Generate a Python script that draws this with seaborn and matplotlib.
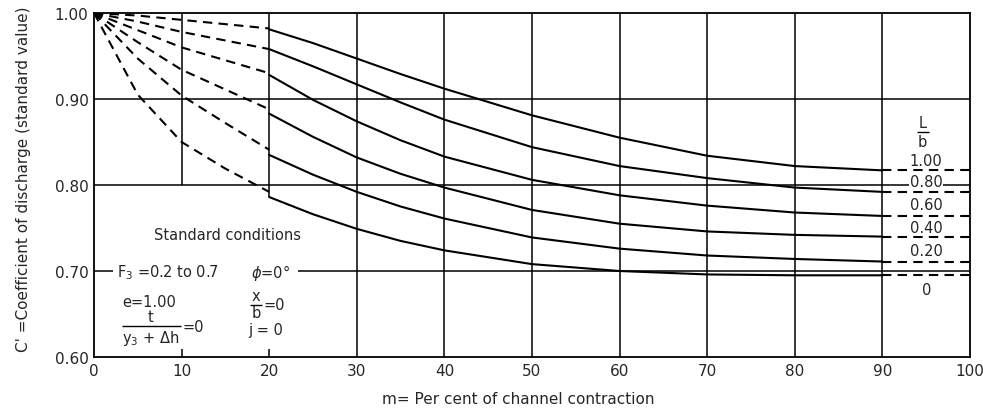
import matplotlib
matplotlib.use("Agg")
import matplotlib.pyplot as plt
import seaborn as sns
import pandas as pd

# ---------------- data ----------------
ratio_labels = ["1.00", "0.80", "0.60", "0.40", "0.20", "0"]

# dashed lead-in portion (m = 0 .. 20)
m_start = [0, 5, 10, 15, 20]
start_100 = [1.000, 0.997, 0.992, 0.987, 0.982]
start_080 = [1.000, 0.990, 0.978, 0.968, 0.958]
start_060 = [1.000, 0.980, 0.960, 0.945, 0.930]
start_040 = [1.000, 0.966, 0.934, 0.911, 0.888]
start_020 = [1.000, 0.947, 0.904, 0.872, 0.841]
start_000 = [1.000, 0.905, 0.850, 0.819, 0.792]

# solid portion (m = 20 .. 90)
m_solid = [20, 25, 30, 35, 40, 50, 60, 70, 80, 90]
solid_100 = [0.981, 0.965, 0.947, 0.929, 0.912, 0.881, 0.855, 0.834, 0.822, 0.817]
solid_080 = [0.958, 0.938, 0.917, 0.896, 0.876, 0.844, 0.822, 0.808, 0.797, 0.792]
solid_060 = [0.928, 0.899, 0.874, 0.852, 0.833, 0.806, 0.788, 0.776, 0.768, 0.764]
solid_040 = [0.883, 0.856, 0.832, 0.813, 0.797, 0.771, 0.755, 0.746, 0.742, 0.740]
solid_020 = [0.835, 0.812, 0.792, 0.775, 0.761, 0.739, 0.726, 0.718, 0.714, 0.711]
solid_000 = [0.786, 0.766, 0.749, 0.735, 0.724, 0.708, 0.700, 0.696, 0.695, 0.695]

# dashed tail portion (m = 90 .. 100)
m_end = [90, 100]
end_level = [0.817, 0.792, 0.764, 0.740, 0.711, 0.695]

x_ticks = [0, 10, 20, 30, 40, 50, 60, 70, 80, 90, 100]
y_ticks = [0.60, 0.70, 0.80, 0.90, 1.00]
y_ticklabels = ["0.60", "0.70", "0.80", "0.90", "1.00"]

# ---------------- build tables ----------------
starts = [start_100, start_080, start_060, start_040, start_020, start_000]
solids = [solid_100, solid_080, solid_060, solid_040, solid_020, solid_000]

rows = []
for lab, st, so, en in zip(ratio_labels, starts, solids, end_level):
    for m, c in zip(m_start, st):
        rows.append(dict(ratio=lab, part="start", m=m, c=c))
    for m, c in zip(m_solid, so):
        rows.append(dict(ratio=lab, part="solid", m=m, c=c))
    for m in m_end:
        rows.append(dict(ratio=lab, part="end", m=m, c=en))
df = pd.DataFrame(rows)

# ---------------- figure ----------------
sns.set_style("white")
plt.rcParams["font.family"] = ["DejaVu Sans"]
plt.rcParams["mathtext.fontset"] = "dejavusans"

fig = plt.figure(figsize=(9.83, 4.10), dpi=100)
ax = fig.add_axes([0.0956, 0.1268, 0.8912, 0.8391])
ax.set_xlim(0, 100)
ax.set_ylim(0.60, 1.00)

grid_kw = dict(color="black", lw=1.1, zorder=1)
# vertical grid
for xv in [30, 40, 50, 60, 70, 80, 90]:
    ax.vlines(xv, 0.60, 1.00, **grid_kw)
ax.vlines(10, 0.80, 1.00, **grid_kw)
ax.vlines(20, solid_000[0], 1.00, **grid_kw)
ax.vlines([10, 20], 0.60, 0.609, **grid_kw)
# horizontal grid
ax.hlines(0.90, 0, 100, **grid_kw)
ax.hlines(0.80, 0, 100, **grid_kw)
ax.hlines(0.70, 23.3, 100, **grid_kw)
ax.hlines(0.70, 0, 2.2, **grid_kw)

dash_pat = (0, (4.5, 3))
for lab in ratio_labels:
    sub = df[df["ratio"] == lab]
    for part in ["start", "solid", "end"]:
        seg = sub[sub["part"] == part]
        sns.lineplot(data=seg, x="m", y="c", ax=ax, color="black", lw=1.5,
                     estimator=None, sort=False, legend=False, zorder=3,
                     linestyle="-" if part == "solid" else dash_pat)

for s in ax.spines.values():
    s.set_visible(True)
    s.set_color("black")
    s.set_linewidth(1.3)

ax.set_xticks(x_ticks)
ax.set_xticklabels([str(v) for v in x_ticks], fontsize=11)
ax.set_yticks(y_ticks)
ax.set_yticklabels(y_ticklabels, fontsize=11)
ax.tick_params(length=0, pad=4)

ax.set_xlabel("m= Per cent of channel contraction", fontsize=11)
ax.xaxis.set_label_coords((518 - 94) / 876, -0.10)
ax.set_ylabel("C' =Coefficient of discharge (standard value)", fontsize=11)
ax.yaxis.set_label_coords(-0.072, 0.52)

# right-hand labels
lab_y = [0.828, 0.804, 0.777, 0.751, 0.724, 0.679]
for lab, yv in zip(ratio_labels, lab_y):
    ax.text(95.0, yv, lab, ha="center", va="center", fontsize=10.5, zorder=4,
            bbox=dict(boxstyle="square,pad=0.05", fc="white", ec="none"))
ax.text(94.6, 0.873, "L", ha="center", va="center", fontsize=10.5)
ax.hlines(0.862, 93.9, 95.3, color="black", lw=1.0)
ax.text(94.6, 0.850, "b", ha="center", va="center", fontsize=10.5)

# standard conditions block
fs = 10.5
ax.text(15.2, 0.743, "Standard conditions", ha="center", va="center", fontsize=fs)
ax.text(2.6, 0.699, r"F$_3$ =0.2 to 0.7", ha="left", va="center", fontsize=fs)
ax.text(17.9, 0.699, r"$\phi$=0°", ha="left", va="center", fontsize=fs)
ax.text(3.2, 0.665, "e=1.00", ha="left", va="center", fontsize=fs)
# t / (y3 + dh) = 0
ax.text(6.5, 0.647, "t", ha="center", va="center", fontsize=fs)
ax.hlines(0.636, 3.2, 9.9, color="black", lw=1.0)
ax.text(6.5, 0.623, r"y$_3$ + $\Delta$h", ha="center", va="center", fontsize=fs)
ax.text(10.1, 0.635, "=0", ha="left", va="center", fontsize=fs)
# x / b = 0
ax.text(18.5, 0.671, "x", ha="center", va="center", fontsize=fs)
ax.hlines(0.661, 17.8, 19.2, color="black", lw=1.0)
ax.text(18.5, 0.652, "b", ha="center", va="center", fontsize=fs)
ax.text(19.3, 0.661, "=0", ha="left", va="center", fontsize=fs)
ax.text(17.6, 0.632, "j = 0", ha="left", va="center", fontsize=fs)

fig.savefig("out.png", dpi=100)
